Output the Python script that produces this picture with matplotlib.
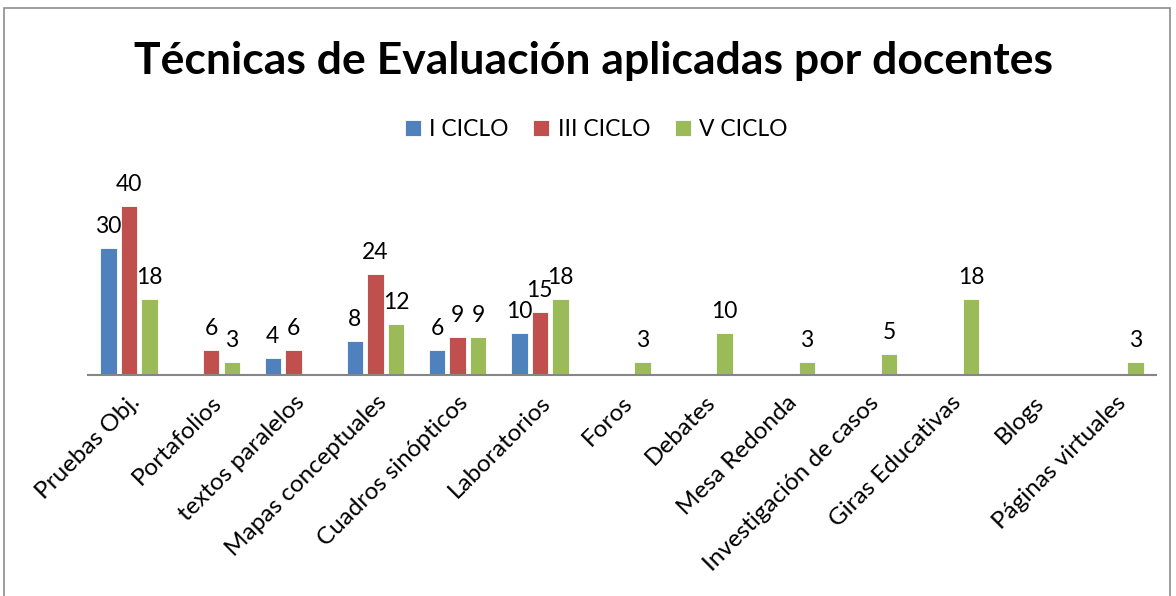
import numpy as np
import matplotlib
matplotlib.use('Agg')
import matplotlib.pyplot as plt
from matplotlib.patches import Rectangle

plt.rcParams['font.family'] = ['Lato', 'DejaVu Sans']

# datos del gráfico
categorias = ['Pruebas Obj.', 'Portafolios', 'textos paralelos', 'Mapas conceptuales',
              'Cuadros sinópticos', 'Laboratorios', 'Foros', 'Debates', 'Mesa Redonda',
              'Investigación de casos', 'Giras Educativas', 'Blogs', 'Páginas virtuales']
ciclo_1 = [30, 0, 4, 8, 6, 10, 0, 0, 0, 0, 0, 0, 0]
ciclo_3 = [40, 6, 6, 24, 9, 15, 0, 0, 0, 0, 0, 0, 0]
ciclo_5 = [18, 3, 0, 12, 9, 18, 3, 10, 3, 5, 18, 0, 3]
series = ['I CICLO', 'III CICLO', 'V CICLO']
colores = ['#4F81BD', '#C0504D', '#9BBB59']

fig = plt.figure(figsize=(11.76, 5.96), dpi=100)
ax = fig.add_axes([0.0748, 0.3708, 0.9082, 0.3188])

x = np.arange(len(categorias))
ancho = 0.2
paso = 0.25
for i, (nombre, vals) in enumerate(zip(series, [ciclo_1, ciclo_3, ciclo_5])):
    pos = x + (i - 1) * paso
    barras = ax.bar(pos, vals, width=ancho, color=colores[i], label=nombre,
                    edgecolor='white', linewidth=0.6)
    for b, v in zip(barras, vals):
        if v > 0:
            ax.annotate(str(v), (b.get_x() + b.get_width() / 2, v),
                        xytext=(0, 8), textcoords='offset points',
                        ha='center', va='bottom', fontsize=16.5)

ax.set_xlim(-0.5, len(categorias) - 0.5)
ax.set_ylim(0, 45)
ax.set_yticks([])
ax.set_xticks(x)
ax.set_xticklabels(categorias, rotation=45, ha='right', rotation_mode='anchor', fontsize=17.5)
ax.tick_params(axis='x', length=0, pad=12)
for s in ['top', 'right', 'left']:
    ax.spines[s].set_visible(False)
ax.spines['bottom'].set_color('#868686')
ax.spines['bottom'].set_linewidth(1.5)

fig.text(0.505, 0.897, 'Técnicas de Evaluación aplicadas por docentes',
         ha='center', va='center', fontsize=32, fontweight='bold')
fig.legend(loc='center', bbox_to_anchor=(0.507, 0.782), ncol=3, frameon=False,
           fontsize=16.5, handlelength=0.7, handleheight=0.7, handletextpad=0.35,
           columnspacing=1.1)

fig.patches.append(Rectangle((0.0035, -0.1), 0.9915, 1.0865, transform=fig.transFigure,
                             fill=False, edgecolor='#8c8c8c', linewidth=1.2))

plt.savefig('out.png', dpi=100)
